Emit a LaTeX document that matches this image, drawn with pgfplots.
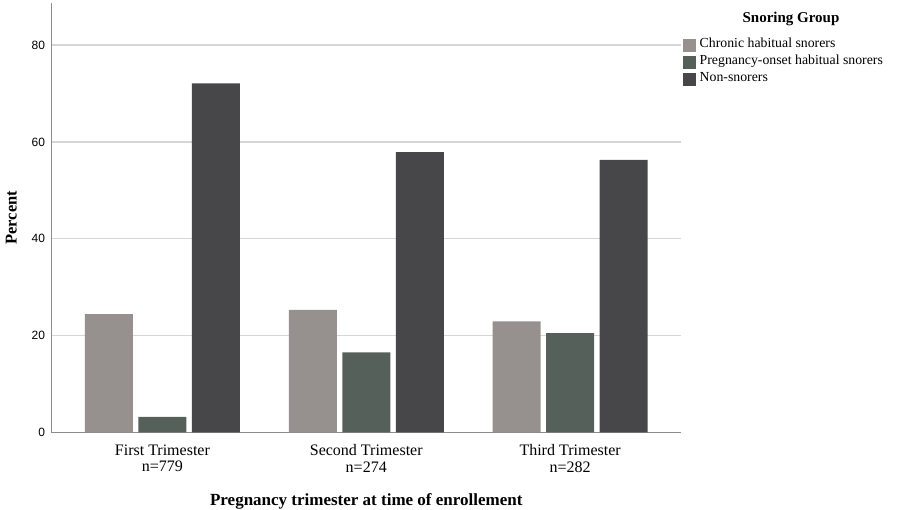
\documentclass[border=0pt]{standalone}
\usepackage{pgfplots}
\pgfplotsset{compat=1.18}
\usepackage{fontspec}
\setmainfont{Liberation Serif}
\newfontfamily\tickfont{Liberation Sans}
\definecolor{cChronic}{HTML}{96918F}
\definecolor{cOnset}{HTML}{56605A}
\definecolor{cNon}{HTML}{47474A}
\definecolor{cGrid}{HTML}{D6D6D6}
\definecolor{cAxis}{HTML}{8C8C8C}
\begin{document}
\begin{tikzpicture}
\path[use as bounding box] (0,0) rectangle (900pt,-510pt);
\begin{axis}[
  at={(51.5pt,-432.3pt)}, anchor=south west,
  scale only axis, width=629.5pt, height=429.3pt,
  ybar=5.5pt, bar width=48pt,
  xmin=-0.544, xmax=2.544, ymin=0, ymax=88.7,
  axis x line*=bottom, axis y line*=left,
  axis line style={cAxis, line width=1pt, -},
  xtick={0,1,2}, xticklabels={{First Trimester\\n=779},{Second Trimester\\n=274},{Third Trimester\\n=282}},
  xticklabel style={align=center, font=\fontsize{16}{16.5}\selectfont, yshift=-9pt},
  ytick={0,20,40,60,80},
  yticklabel style={font=\tickfont\fontsize{12}{14}\selectfont, xshift=-3pt},
  /pgf/number format/assume math mode=true,
  major tick length=0pt,
  ymajorgrids, grid style={cGrid, line width=1.3pt},
  ylabel={\textbf{Percent}}, ylabel style={font=\fontsize{16.5}{18}\selectfont, yshift=8pt},
  xlabel={\textbf{Pregnancy trimester at time of enrollement}}, xlabel style={font=\fontsize{17}{19}\selectfont, yshift=-14pt},
  legend style={at={(1.0032,0.922)}, anchor=north west, draw=none, fill=none, inner sep=0pt,
    font=\fontsize{13.8}{15}\selectfont, row sep=0pt, column sep=3.5pt,
    nodes={inner sep=0pt, text height=11pt, text depth=6pt}},
  legend cell align=left,
  legend image code/.code={\fill[#1] (0pt,-6.5pt) rectangle (13pt,6.5pt);},
  clip=false,
]
\addplot[fill=cChronic, draw=none] coordinates {(0,24.4) (1,25.3) (2,22.9)};
\addplot[fill=cOnset, draw=none] coordinates {(0,3.2) (1,16.5) (2,20.5)};
\addplot[fill=cNon, draw=none] coordinates {(0,72.1) (1,57.9) (2,56.3)};
\legend{Chronic habitual snorers, Pregnancy-onset habitual snorers, Non-snorers}
\end{axis}
\node[font=\bfseries\fontsize{15}{17}\selectfont] at (791pt,-19pt) {Snoring Group};
\end{tikzpicture}
\end{document}
